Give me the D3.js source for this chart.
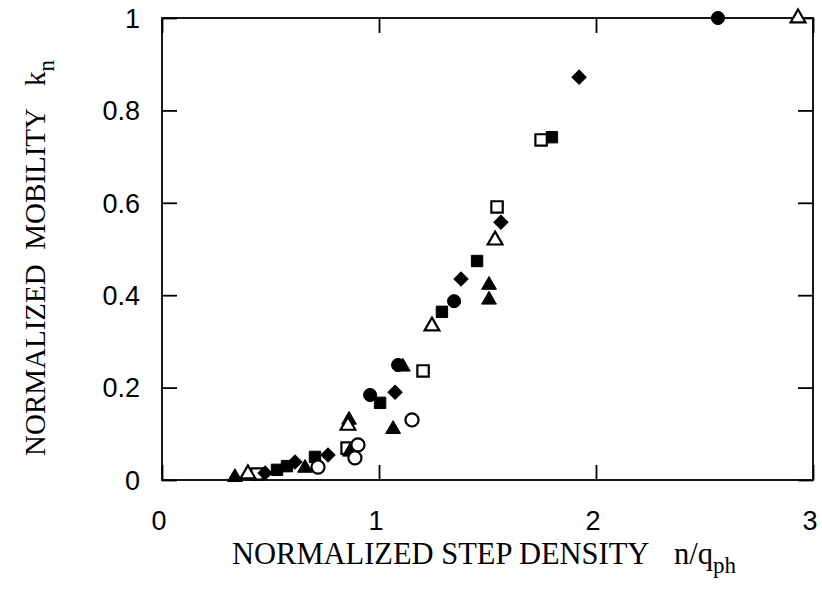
<!DOCTYPE html>
<html>
<head>
<meta charset="utf-8">
<script src="https://cdn.jsdelivr.net/npm/d3@7"></script>
<style>
  html, body { margin: 0; padding: 0; background: #fff; }
  svg { display: block; }
</style>
</head>
<body>
<svg id="chart" width="822" height="589"></svg>
<script>
// ---- data (x = n/q_ph, y = k_n) ----
const filledCircle   = [[0.959,0.184],[1.088,0.249],[1.346,0.387],[2.562,1.0]];
const openCircle     = [[0.719,0.028],[0.889,0.048],[0.903,0.076],[1.152,0.130]];
const filledSquare   = [[0.530,0.022],[0.576,0.030],[0.705,0.050],[1.005,0.167],[1.290,0.364],[1.452,0.474],[1.797,0.742]];
const openSquare     = [[0.438,0.013],[0.853,0.069],[1.203,0.236],[1.544,0.591],[1.747,0.736]];
const filledTriangle = [[0.336,0.006],[0.659,0.026],[0.866,0.061],[0.862,0.130],[1.065,0.110],[1.110,0.245],[1.507,0.422],[1.507,0.390]];
const openTriangle   = [[0.396,0.013],[0.857,0.118],[1.244,0.333],[1.535,0.519],[2.931,1.0]];
const filledDiamond  = [[0.475,0.015],[0.613,0.039],[0.765,0.054],[1.074,0.190],[1.378,0.435],[1.562,0.558],[1.922,0.872]];

const xTicks = [0, 1, 2, 3];
const yTicks = [0, 0.2, 0.4, 0.6, 0.8, 1];
const yTickLabels = ["0", "0.2", "0.4", "0.6", "0.8", "1"];

const series = [
  {data: filledSquare,   shape: "square",   filled: true},
  {data: openSquare,     shape: "square",   filled: false},
  {data: filledDiamond,  shape: "diamond",  filled: true},
  {data: filledTriangle, shape: "triangle", filled: true},
  {data: openCircle,     shape: "circle",   filled: false},
  {data: openTriangle,   shape: "triangle", filled: false},
  {data: filledCircle,   shape: "circle",   filled: true}
];

// ---- layout ----
const W = 822, H = 589;
const m = {left: 162, top: 18, right: 9, bottom: 109};
const iw = W - m.left - m.right, ih = H - m.top - m.bottom;

const svg = d3.select("#chart");
const g = svg.append("g").attr("transform", `translate(${m.left},${m.top})`);

const x = d3.scaleLinear().domain([0, 3]).range([0, iw]);
const y = d3.scaleLinear().domain([0, 1]).range([ih, 0]);

// frame
g.append("rect").attr("x", 0).attr("y", 0).attr("width", iw).attr("height", ih)
  .attr("fill", "none").attr("stroke", "#000").attr("stroke-width", 1.8);

const TL = 15;
const axB = d3.axisBottom(x).tickValues(xTicks).tickSize(-TL).tickFormat("");
const axT = d3.axisTop(x).tickValues(xTicks).tickSize(-TL).tickFormat("");
const axL = d3.axisLeft(y).tickValues(yTicks).tickSize(-TL).tickFormat("");
const axR = d3.axisRight(y).tickValues(yTicks).tickSize(-TL).tickFormat("");
function styleAxis(sel) {
  sel.select(".domain").remove();
  sel.selectAll(".tick line").attr("stroke", "#000").attr("stroke-width", 1.8);
}
g.append("g").attr("transform", `translate(0,${ih})`).call(axB).call(styleAxis);
g.append("g").call(axT).call(styleAxis);
g.append("g").call(axL).call(styleAxis);
g.append("g").attr("transform", `translate(${iw},0)`).call(axR).call(styleAxis);

// tick labels
const tickFont = "'Liberation Sans', Arial, Helvetica, sans-serif";
g.selectAll(".xl").data(xTicks).enter().append("text")
  .attr("x", d => x(d) - 3).attr("y", ih + 50)
  .attr("text-anchor", "middle")
  .attr("font-family", tickFont).attr("font-size", 27)
  .text(d => d);
g.selectAll(".yl").data(yTicks).enter().append("text")
  .attr("x", -22).attr("y", d => y(d)).attr("dy", "0.36em")
  .attr("text-anchor", "end")
  .attr("font-family", tickFont).attr("font-size", 27)
  .text((d, i) => yTickLabels[i]);

// axis titles
const titleFont = "'Liberation Serif', 'Times New Roman', serif";
const xt = svg.append("text")
  .attr("y", 564)
  .attr("font-family", titleFont).attr("font-size", 30.5);
xt.append("tspan").attr("x", 232).text("NORMALIZED STEP DENSITY");
xt.append("tspan").attr("x", 674).text("n/q");
xt.append("tspan").attr("font-size", 23).attr("dy", 9).text("ph");

const yt = svg.append("text")
  .attr("transform", "translate(45,0) rotate(-90)")
  .attr("font-family", titleFont).attr("font-size", 29);
yt.append("tspan").attr("x", -456).text("NORMALIZED\u00A0\u00A0MOBILITY");
yt.append("tspan").attr("x", -86).text("k");
yt.append("tspan").attr("font-size", 23).attr("dy", 9).text("n");

// markers
const symGen = {
  circle:   d3.symbol().type(d3.symbolCircle).size(135),
  square:   d3.symbol().type(d3.symbolSquare).size(130),
  diamond:  d3.symbol().type(d3.symbolSquare).size(100),
  triangle: d3.symbol().type(d3.symbolTriangle).size(95)
};
const pts = g.append("g");
series.forEach(s => {
  pts.selectAll(null).data(s.data).enter().append("path")
    .attr("d", symGen[s.shape]())
    .attr("transform", d => `translate(${x(d[0])},${y(d[1])})` + (s.shape === "diamond" ? " rotate(45)" : ""))
    .attr("fill", s.filled ? "#000" : "#fff")
    .attr("stroke", "#000")
    .attr("stroke-width", s.filled ? 1 : 2.2);
});
</script>
</body>
</html>
